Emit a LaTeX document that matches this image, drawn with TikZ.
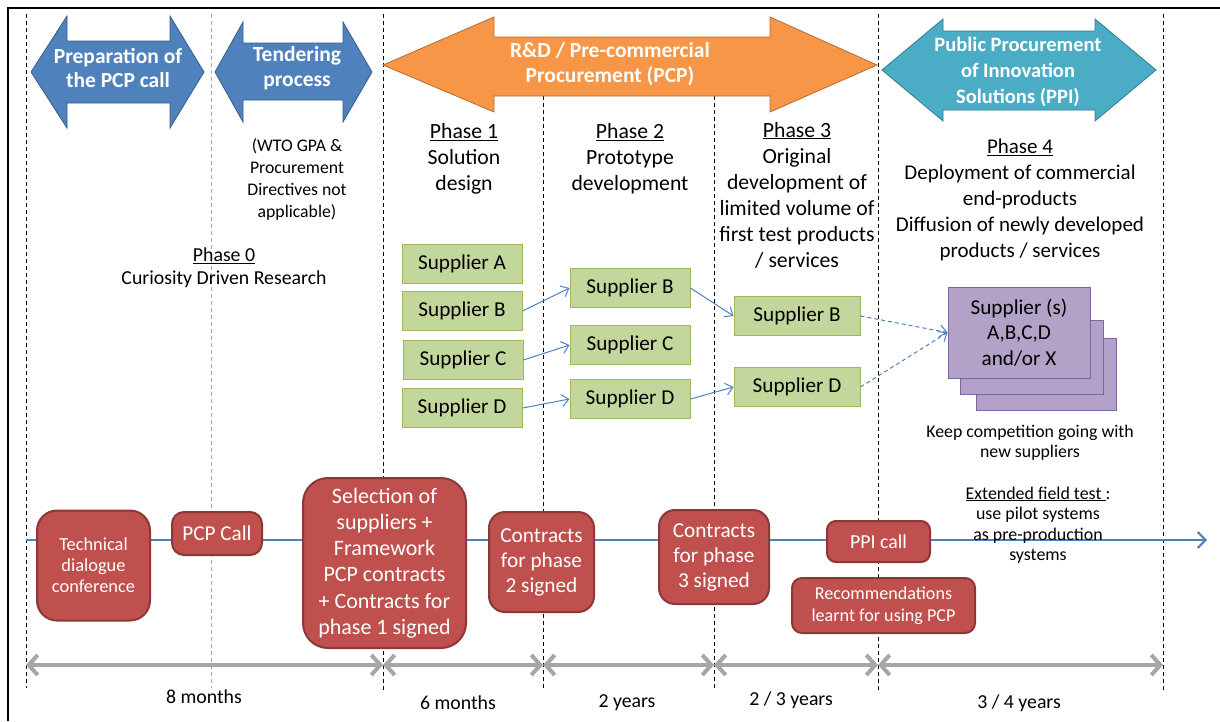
\documentclass[tikz,border=0pt]{standalone}
\usepackage{fontspec}
\setmainfont{Carlito}
\usetikzlibrary{arrows.meta}
\definecolor{prepblue}{HTML}{4F81BD}
\definecolor{prepblueline}{HTML}{385D8A}
\definecolor{pcporange}{HTML}{F79646}
\definecolor{pcporangeline}{HTML}{B66D31}
\definecolor{ppicyan}{HTML}{4BACC6}
\definecolor{ppicyanline}{HTML}{357D91}
\definecolor{suppgreen}{HTML}{C3D69B}
\definecolor{suppgreenline}{HTML}{9BBB59}
\definecolor{eventred}{HTML}{C0504D}
\definecolor{eventredline}{HTML}{8C3836}
\definecolor{supppurple}{HTML}{B3A2C7}
\definecolor{supppurpleline}{HTML}{8064A2}
\definecolor{spangray}{HTML}{A6A6A6}
\definecolor{linkblue}{HTML}{4F81BD}
\tikzset{
  divider/.style={draw=black, line width=0.8pt, dash pattern=on 4pt off 3pt},
  softdivider/.style={draw=black!35, line width=0.8pt, dash pattern=on 4pt off 3pt},
  bigarrow/.style={line width=0.8pt},
  arrowtext/.style={text=white, align=center, font=\bfseries\fontsize{21.5}{24.5}\selectfont},
  phasetext/.style={align=center, font=\fontsize{21.7}{26}\selectfont},
  smalltext/.style={align=center, font=\fontsize{17.7}{22}\selectfont},
  supplier/.style={draw=suppgreenline, fill=suppgreen, line width=1pt,
    minimum width=120pt, minimum height=39pt, inner sep=0pt, font=\fontsize{21.2}{23}\selectfont},
  event/.style={draw=eventredline, fill=eventred, line width=2pt, text=white,
    align=center, inner sep=0pt, rounded corners=12pt},
  stackbox/.style={draw=supppurpleline, fill=supppurple, line width=1pt, inner sep=0pt},
  link/.style={draw=linkblue, line width=1pt, -{Straight Barb[length=7pt,width=12pt]}},
  dashlink/.style={link, dash pattern=on 4pt off 3pt},
  span/.style={draw=spangray, line width=4pt,
    {Straight Barb[length=9pt,width=20pt]}-{Straight Barb[length=9pt,width=20pt]}},
  spanlabel/.style={font=\fontsize{19.8}{22}\selectfont}
}
\begin{document}
\begin{tikzpicture}[x=1pt,y=-1pt]
\useasboundingbox (0,0) rectangle (1220,721);
\fill[white] (0,0) rectangle (1220,721);

% outer frame
\draw[line width=1.5pt] (8,721) -- (8,8) -- (1220,8);

% period dividers
\draw[divider] (26,14) -- (26,688);
\draw[softdivider] (211,14) -- (211,688);
\draw[divider] (383,14) -- (383,690);
\draw[divider] (543,96) -- (543,690);
\draw[divider] (714,96) -- (714,690);
\draw[divider] (878,14) -- (878,690);
\draw[divider] (1163,14) -- (1163,690);

% phase banners
\draw[bigarrow, fill=prepblue, draw=prepblueline]
  (31,72) -- (67,16) -- (67,41) -- (170,41) -- (170,16) -- (204,72)
  -- (170,128) -- (170,103) -- (67,103) -- (67,128) -- cycle;
\node[arrowtext] (prep) at (118,68) {Preparation of\\the PCP call};
\draw[bigarrow, fill=prepblue, draw=prepblueline]
  (215,72) -- (243,22) -- (243,43) -- (343,43) -- (343,22) -- (372,72)
  -- (343,122) -- (343,100) -- (243,100) -- (243,122) -- cycle;
\node[arrowtext] (tender) at (297,68) {Tendering\\process};
\draw[bigarrow, fill=pcporange, draw=pcporangeline]
  (383,65) -- (494,17) -- (494,37) -- (770,37) -- (770,17) -- (877,65)
  -- (770,112) -- (770,96) -- (494,96) -- (494,112) -- cycle;
\node[arrowtext] (pcp) at (610,64) {R\&D / Pre-commercial\\Procurement (PCP)};
\draw[bigarrow, fill=ppicyan, draw=ppicyanline]
  (882,70) -- (943,19) -- (943,31) -- (1095,31) -- (1095,19) -- (1156,70)
  -- (1095,121) -- (1095,110) -- (943,110) -- (943,121) -- cycle;
\node[arrowtext, font=\bfseries\fontsize{20.5}{26}\selectfont] (ppi) at (1018,72)
  {Public Procurement\\of Innovation\\Solutions (PPI)};

% phase descriptions
\node[smalltext] (wto) at (297,179) {(WTO GPA \&\\Procurement\\Directives not\\applicable)};
\node[align=center, font=\fontsize{19.8}{23}\selectfont] (ph0) at (224,268)
  {\underline{Phase 0}\\Curiosity Driven Research};
\node[phasetext] (ph1) at (464,159) {\underline{Phase 1}\\Solution\\design};
\node[phasetext] (ph2) at (630,159) {\underline{Phase 2}\\Prototype\\development};
\node[phasetext] (ph3) at (797,195) {\underline{Phase 3}\\Original\\development of\\limited volume of\\first test products\\/ services};
\node[phasetext, font=\fontsize{21}{26}\selectfont] (ph4) at (1020,200) {\underline{Phase 4}\\Deployment of commercial\\end-products\\Diffusion of newly developed\\products / services};

% suppliers per phase
\node[supplier] (a1) at (462,264) {Supplier A};
\node[supplier] (b1) at (462,311) {Supplier B};
\node[supplier] (c1) at (463,360) {Supplier C};
\node[supplier] (d1) at (462,408) {Supplier D};
\node[supplier] (b2) at (630,288) {Supplier B};
\node[supplier] (c2) at (630,345) {Supplier C};
\node[supplier] (d2) at (630,399) {Supplier D};
\node[supplier, minimum width=126pt] (b3) at (797,316) {Supplier B};
\node[supplier, minimum width=126pt] (d3) at (797,387) {Supplier D};

% phase 4 supplier stack
\node[stackbox, minimum width=140pt, minimum height=72pt] (s3) at (1046,374) {};
\node[stackbox, minimum width=143pt, minimum height=74pt] (s2) at (1031.5,357) {};
\node[stackbox, minimum width=142pt, minimum height=91pt, align=center,
  font=\fontsize{21.2}{25.5}\selectfont] (supp) at (1019,332.5)
  {Supplier (s)\\A,B,C,D\\and/or X};
\node[align=center, font=\fontsize{17.8}{20}\selectfont] (keep) at (1030,443)
  {Keep competition going with\\new suppliers};

% supplier progression
\draw[link] (b1.east) -- (b2.west);
\draw[link] (c1.east) -- (c2.west);
\draw[link] (d1.east) -- (d2.west);
\draw[link] (b2.east) -- (b3.west);
\draw[link] (d2.east) -- (d3.west);
\draw[dashlink] (b3.east) -- (supp.west);
\draw[dashlink] (d3.east) -- (supp.west);

% timeline
\coordinate (tl0) at (26,540);
\coordinate (tl1) at (1207,540);
\draw[draw=prepblue, line width=2pt, -{Straight Barb[length=8pt,width=16pt]}] (tl0) -- (tl1);

% milestones
\node[event, rounded corners=20pt, minimum width=113pt, minimum height=110pt,
  font=\fontsize{18.4}{21}\selectfont] (tech) at (93.5,565.5) {Technical\\dialogue\\conference};
\node[event, minimum width=90pt, minimum height=43pt,
  font=\fontsize{21.2}{24}\selectfont] (call) at (217,533.5) {PCP Call};
\node[event, rounded corners=25pt, minimum width=163pt, minimum height=170pt,
  font=\fontsize{22}{26.2}\selectfont] (select) at (384.5,563)
  {Selection of\\suppliers +\\Framework\\PCP contracts\\+ Contracts for\\phase 1 signed};
\node[event, rounded corners=16pt, minimum width=105pt, minimum height=100pt,
  font=\fontsize{21.3}{25}\selectfont] (con2) at (541.5,562) {Contracts\\for phase\\2 signed};
\node[event, rounded corners=16pt, minimum width=110pt, minimum height=94pt,
  font=\fontsize{21.3}{25}\selectfont] (con3) at (714,557) {Contracts\\for phase\\3 signed};
\node[event, rounded corners=9pt, minimum width=103pt, minimum height=41pt,
  font=\fontsize{19.8}{23}\selectfont] (ppicall) at (878.5,541.5) {PPI call};
\node[event, rounded corners=10pt, minimum width=183pt, minimum height=55pt,
  font=\fontsize{18.1}{22}\selectfont] (recom) at (883.5,605.5) {Recommendations\\learnt for using PCP};

\node[align=center, font=\fontsize{17.9}{20.5}\selectfont] (field) at (1038,525)
  {\underline{Extended field test\ }:\\use pilot systems\\as pre-production\\systems};

% durations
\coordinate (p0) at (26,665);
\coordinate (p1) at (383,665);
\coordinate (p2) at (543,665);
\coordinate (p3) at (714,665);
\coordinate (p4) at (878,665);
\coordinate (p5) at (1163,665);
\draw[span] (p0) -- (p1);
\draw[span] (p1) -- (p2);
\draw[span] (p2) -- (p3);
\draw[span] (p3) -- (p4);
\draw[span] (p4) -- (p5);
\node[spanlabel] (d0) at (204,697) {8 months};
\node[spanlabel] (d1) at (458,703) {6 months};
\node[spanlabel] (d2) at (627,703) {2 years};
\node[spanlabel] (d3) at (791,700) {2 / 3 years};
\node[spanlabel] (d4) at (1019,703) {3 / 4 years};
\end{tikzpicture}
\end{document}
